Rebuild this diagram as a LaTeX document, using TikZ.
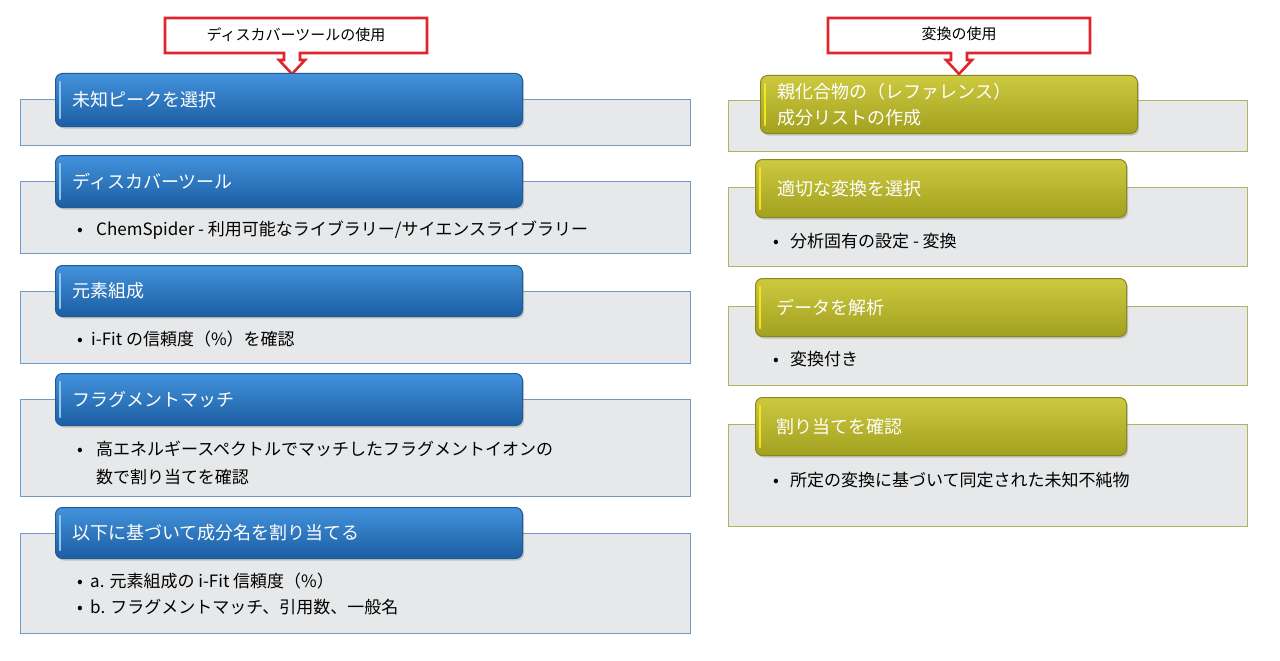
\documentclass[tikz,border=0pt]{standalone}
\usepackage{fontspec}
\setmainfont{Noto Sans CJK JP}
\usetikzlibrary{calc,shadows}
\definecolor{hdrBlueT}{HTML}{4393DC}
\definecolor{hdrBlueM}{HTML}{2677C6}
\definecolor{hdrBlueD}{HTML}{1B5DA2}
\definecolor{hdrBlueB}{HTML}{1E5A96}
\definecolor{hdrOliveT}{HTML}{CDC93F}
\definecolor{hdrOliveM}{HTML}{BDB92E}
\definecolor{hdrOliveD}{HTML}{A3A020}
\definecolor{hdrOliveB}{HTML}{8A881C}
\definecolor{bodyGray}{HTML}{E7E8E9}
\definecolor{bodyBlue}{HTML}{6F9CC6}
\definecolor{bodyOlive}{HTML}{B4B25E}
\definecolor{callRed}{HTML}{E0262C}
\begin{document}
\begin{tikzpicture}[x=1pt,y=-1pt,
  bodybox/.style={fill=bodyGray, line width=1.3pt, inner sep=0pt, anchor=north west, minimum width=#1},
  hdrbox/.style={rounded corners=7pt, line width=1pt, anchor=north west, inner sep=0pt,
    inner xsep=17pt, text width=#1-34pt, minimum width=#1, align=left, text=white,
    font=\fontsize{18}{24}\selectfont,
    drop shadow={opacity=0.35, shadow xshift=1.5pt, shadow yshift=-2pt}},
  hdrL/.style={hdrbox=#1, draw=hdrBlueB, top color=hdrBlueT, middle color=hdrBlueM, bottom color=hdrBlueD},
  hdrR/.style={hdrbox=#1, draw=hdrOliveB, top color=hdrOliveT, middle color=hdrOliveM, bottom color=hdrOliveD},
  bodyL/.style={bodybox=#1, draw=bodyBlue},
  bodyR/.style={bodybox=#1, draw=bodyOlive},
  itemtxt/.style={anchor=west, inner sep=0pt, align=left, font=\fontsize{17}{28}\selectfont},
  calltxt/.style={inner sep=0pt, font=\fontsize{15}{18}\selectfont},
  callout/.style={draw=callRed, fill=white, line width=2.6pt, line join=miter},
  stripe/.style={line width=2.2pt, draw=#1, line cap=round}
]
\useasboundingbox (0,0) rectangle (1280,661);
\fill[white] (0,0) rectangle (1280,661);

% ---------- left callout ----------
\draw[callout] (165,18) -- (427,18) -- (427,53) -- (300,53) -- (300,60) -- (305,60)
  -- (292,74) -- (279,60) -- (284,60) -- (284,53) -- (165,53) -- cycle;
\node[calltxt] (cl) at (296,35) {ディスカバーツールの使用};

% ---------- right callout ----------
\draw[callout] (828,18) -- (1090,18) -- (1090,53) -- (967,53) -- (967,60) -- (972,60)
  -- (959,74) -- (946,60) -- (951,60) -- (951,53) -- (828,53) -- cycle;
\node[calltxt] (cr) at (959,34) {変換の使用};

% ---------- left column ----------
\node[bodyL=670pt, minimum height=46pt] (lb1) at (20,99) {};
\node[hdrL=467pt, minimum height=53pt] (lh1) at (55,73) {未知ピークを選択};

\node[bodyL=670pt, minimum height=72pt] (lb2) at (20,181) {};
\node[hdrL=467pt, minimum height=52pt] (lh2) at (55,155) {ディスカバーツール};
\node[itemtxt] (lt2) at (77,230) {\makebox[19pt][l]{•}ChemSpider - 利用可能なライブラリー/サイエンスライブラリー};

\node[bodyL=670pt, minimum height=72pt] (lb3) at (20,291) {};
\node[hdrL=467pt, minimum height=51pt] (lh3) at (55,265) {元素組成};
\node[itemtxt] (lt3) at (77,339) {\makebox[14pt][l]{•}i-Fit の信頼度（\%）を確認};

\node[bodyL=670pt, minimum height=97pt] (lb4) at (20,399) {};
\node[hdrL=467pt, minimum height=52pt] (lh4) at (55,373) {フラグメントマッチ};
\node[itemtxt] (lt4) at (77,463) {\makebox[19pt][l]{•}高エネルギースペクトルでマッチしたフラグメントイオンの\\\hspace*{19pt}数で割り当てを確認};

\node[bodyL=670pt, minimum height=100pt] (lb5) at (20,533) {};
\node[hdrL=467pt, minimum height=51pt] (lh5) at (55,507) {以下に基づいて成分名を割り当てる};
\node[itemtxt, font=\fontsize{17}{26}\selectfont] (lt5) at (77,594) {\makebox[13pt][l]{•}a. 元素組成の i-Fit 信頼度（\%）\\\makebox[13pt][l]{•}b. フラグメントマッチ、引用数、一般名};

% ---------- right column ----------
\node[bodyR=519pt, minimum height=51pt] (rb1) at (728,100) {};
\node[hdrR=377pt, minimum height=58pt, font=\fontsize{18}{26}\selectfont] (rh1) at (760,75) {親化合物の（レファレンス）\\成分リストの作成};

\node[bodyR=519pt, minimum height=79pt] (rb2) at (728,187) {};
\node[hdrR=371pt, minimum height=58pt, inner xsep=22pt, text width=327pt] (rh2) at (755,159) {適切な変換を選択};
\node[itemtxt] (rt2) at (773,241) {\makebox[17pt][l]{•}分析固有の設定 - 変換};

\node[bodyR=519pt, minimum height=79pt] (rb3) at (728,306) {};
\node[hdrR=371pt, minimum height=58pt, inner xsep=21pt, text width=329pt] (rh3) at (755,278) {データを解析};
\node[itemtxt] (rt3) at (773,359) {\makebox[17pt][l]{•}変換付き};

\node[bodyR=519pt, minimum height=102pt] (rb4) at (728,424) {};
\node[hdrR=371pt, minimum height=58pt, inner xsep=21pt, text width=329pt] (rh4) at (755,397) {割り当てを確認};
\node[itemtxt] (rt4) at (773,480) {\makebox[17pt][l]{•}所定の変換に基づいて同定された未知不純物};

% ---------- light stripes at header left edges ----------
\foreach \h in {lh1,lh2,lh3,lh4,lh5}
  \draw[stripe=hdrBlueT!55!white] ([xshift=5pt,yshift=-9pt]\h.north west) -- ([xshift=5pt,yshift=9pt]\h.south west);
\foreach \h in {rh1,rh2,rh3,rh4}
  \draw[stripe=yellow!70!hdrOliveT] ([xshift=5pt,yshift=-9pt]\h.north west) -- ([xshift=5pt,yshift=9pt]\h.south west);
\end{tikzpicture}
\end{document}
